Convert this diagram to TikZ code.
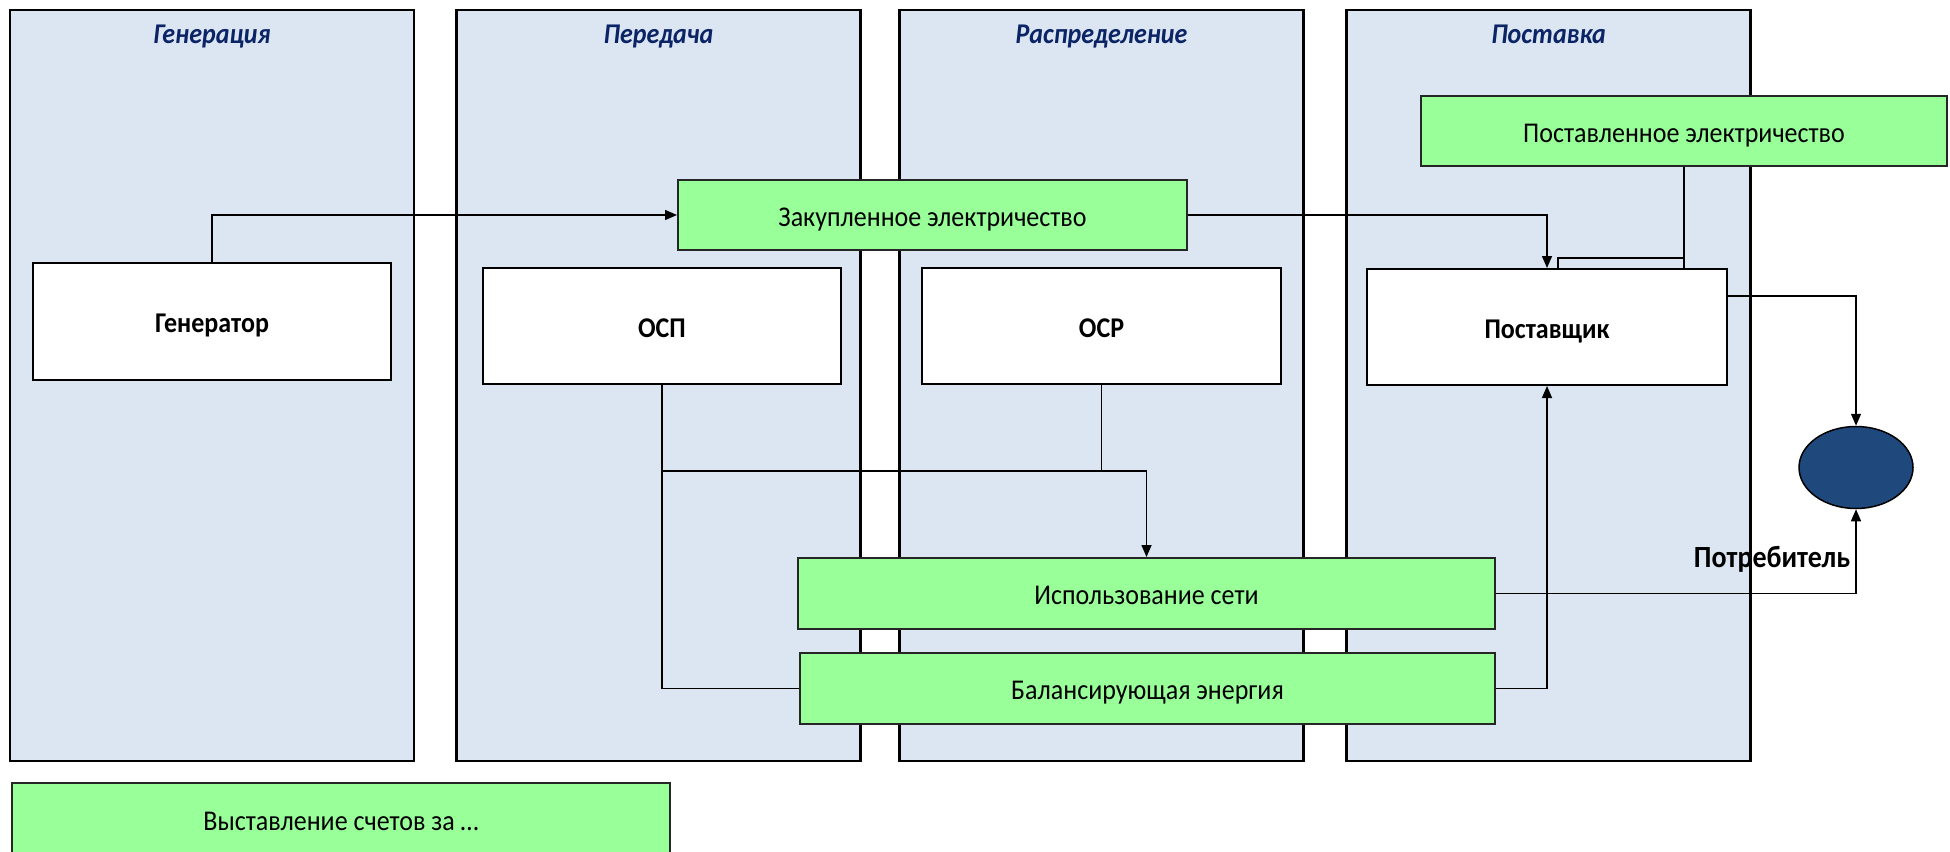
\documentclass[tikz,border=0pt]{standalone}
\usepackage{fontspec}
\usepackage{graphicx}
\setmainfont{Carlito}
\usetikzlibrary{arrows.meta,shapes.geometric,calc}
\definecolor{lanefill}{HTML}{DCE6F2}
\definecolor{greenfill}{HTML}{99FF99}
\definecolor{titlecol}{HTML}{0B2465}
\definecolor{consfill}{HTML}{1F497D}
\newcommand\vst[1]{\scalebox{1}[1.1]{#1}}
\begin{document}
\begin{tikzpicture}[x=1pt,y=-1pt,
  txt/.style={text height=22pt, text depth=0pt},
  lane/.style={draw=black, line width=2.2pt, fill=lanefill, inner sep=0pt, minimum width=404pt, minimum height=751pt},
  ttl/.style={txt, font=\fontsize{26}{30}\selectfont\bfseries\itshape, text=titlecol, inner sep=0pt},
  wbox/.style={txt, draw=black, line width=2pt, fill=white, inner sep=0pt, font=\fontsize{26}{30}\selectfont\bfseries},
  gbox/.style={txt, draw=black!85, line width=2pt, fill=greenfill, inner sep=0pt, font=\fontsize{26}{30}\selectfont},
  conn/.style={draw=black, line width=1.5pt},
  arr/.style={conn, -{Triangle[length=12pt,width=10pt]}},
  lbl/.style={txt, font=\fontsize{28}{32}\selectfont\bfseries, inner sep=0pt}
]
\useasboundingbox (0,0) rectangle (1950,851);
% lanes
\node[lane] (l1) at (212,385.5) {};
\node[lane] (l2) at (658.5,385.5) {};
\node[lane] (l3) at (1101.5,385.5) {};
\node[lane] (l4) at (1548.5,385.5) {};
\node[ttl] (t1) at (212,33) {\vst{Генерация}};
\node[ttl] (t2) at (658.5,33) {\vst{Передача}};
\node[ttl] (t3) at (1101.5,33) {\vst{Распределение}};
\node[ttl] (t4) at (1548.5,33) {\vst{Поставка}};
% white boxes
\node[wbox, minimum width=358pt, minimum height=117pt] (gen) at (212,321.5) {\vst{Генератор}};
\node[wbox, minimum width=358pt, minimum height=116pt] (osp) at (662,326) {\vst{ОСП}};
\node[wbox, minimum width=359pt, minimum height=116pt] (osr) at (1101.5,326) {\vst{ОСР}};
\node[wbox, minimum width=360pt, minimum height=116pt] (post) at (1547,327) {\vst{Поставщик}};
% green boxes
\node[gbox, minimum width=509pt, minimum height=70pt] (zak) at (932.5,215) {\vst{Закупленное электричество}};
\node[gbox, minimum width=526pt, minimum height=70pt] (pel) at (1684,131) {\vst{Поставленное электричество}};
\node[gbox, minimum width=697pt, minimum height=71pt] (util) at (1146.5,593.5) {\vst{Использование сети}};
\node[gbox, minimum width=695pt, minimum height=71pt] (bal) at (1147.5,688.5) {\vst{Балансирующая энергия}};
\node[gbox, minimum width=658pt, minimum height=72pt] (bill) at (341,819) {\vst{Выставление счетов за …}};
% consumer
\node[ellipse, draw=black, line width=1.5pt, fill=consfill, minimum width=114pt, minimum height=82pt, inner sep=0pt] (cons) at (1856,467.5) {};
% connectors
\draw[arr] (gen.north) |- (zak.west);
\draw[arr] (zak.east) -| (post.north);
\coordinate (pj) at (1684,258);
\coordinate (pk) at (1558,258);
\draw[conn] (pel.south) -- (pj) -- (pj |- post.north);
\draw[conn] (pj) -- (pk) -- (pk |- post.north);
\coordinate (pr) at (1727,296);
\draw[arr] (pr) -| (cons.north);
\draw[arr] (util.east) -| (cons.south);
\coordinate (jn) at (662,471);
\draw[conn] (osp.south) |- (bal.west);
\draw[conn] (osr.south) -- (osr.south |- jn);
\draw[arr] (jn) -| (util.north);
\draw[arr] (bal.east) -| (post.south);
\node[lbl] (clbl) at (1772,556) {\vst{Потребитель}};
\end{tikzpicture}
\end{document}
